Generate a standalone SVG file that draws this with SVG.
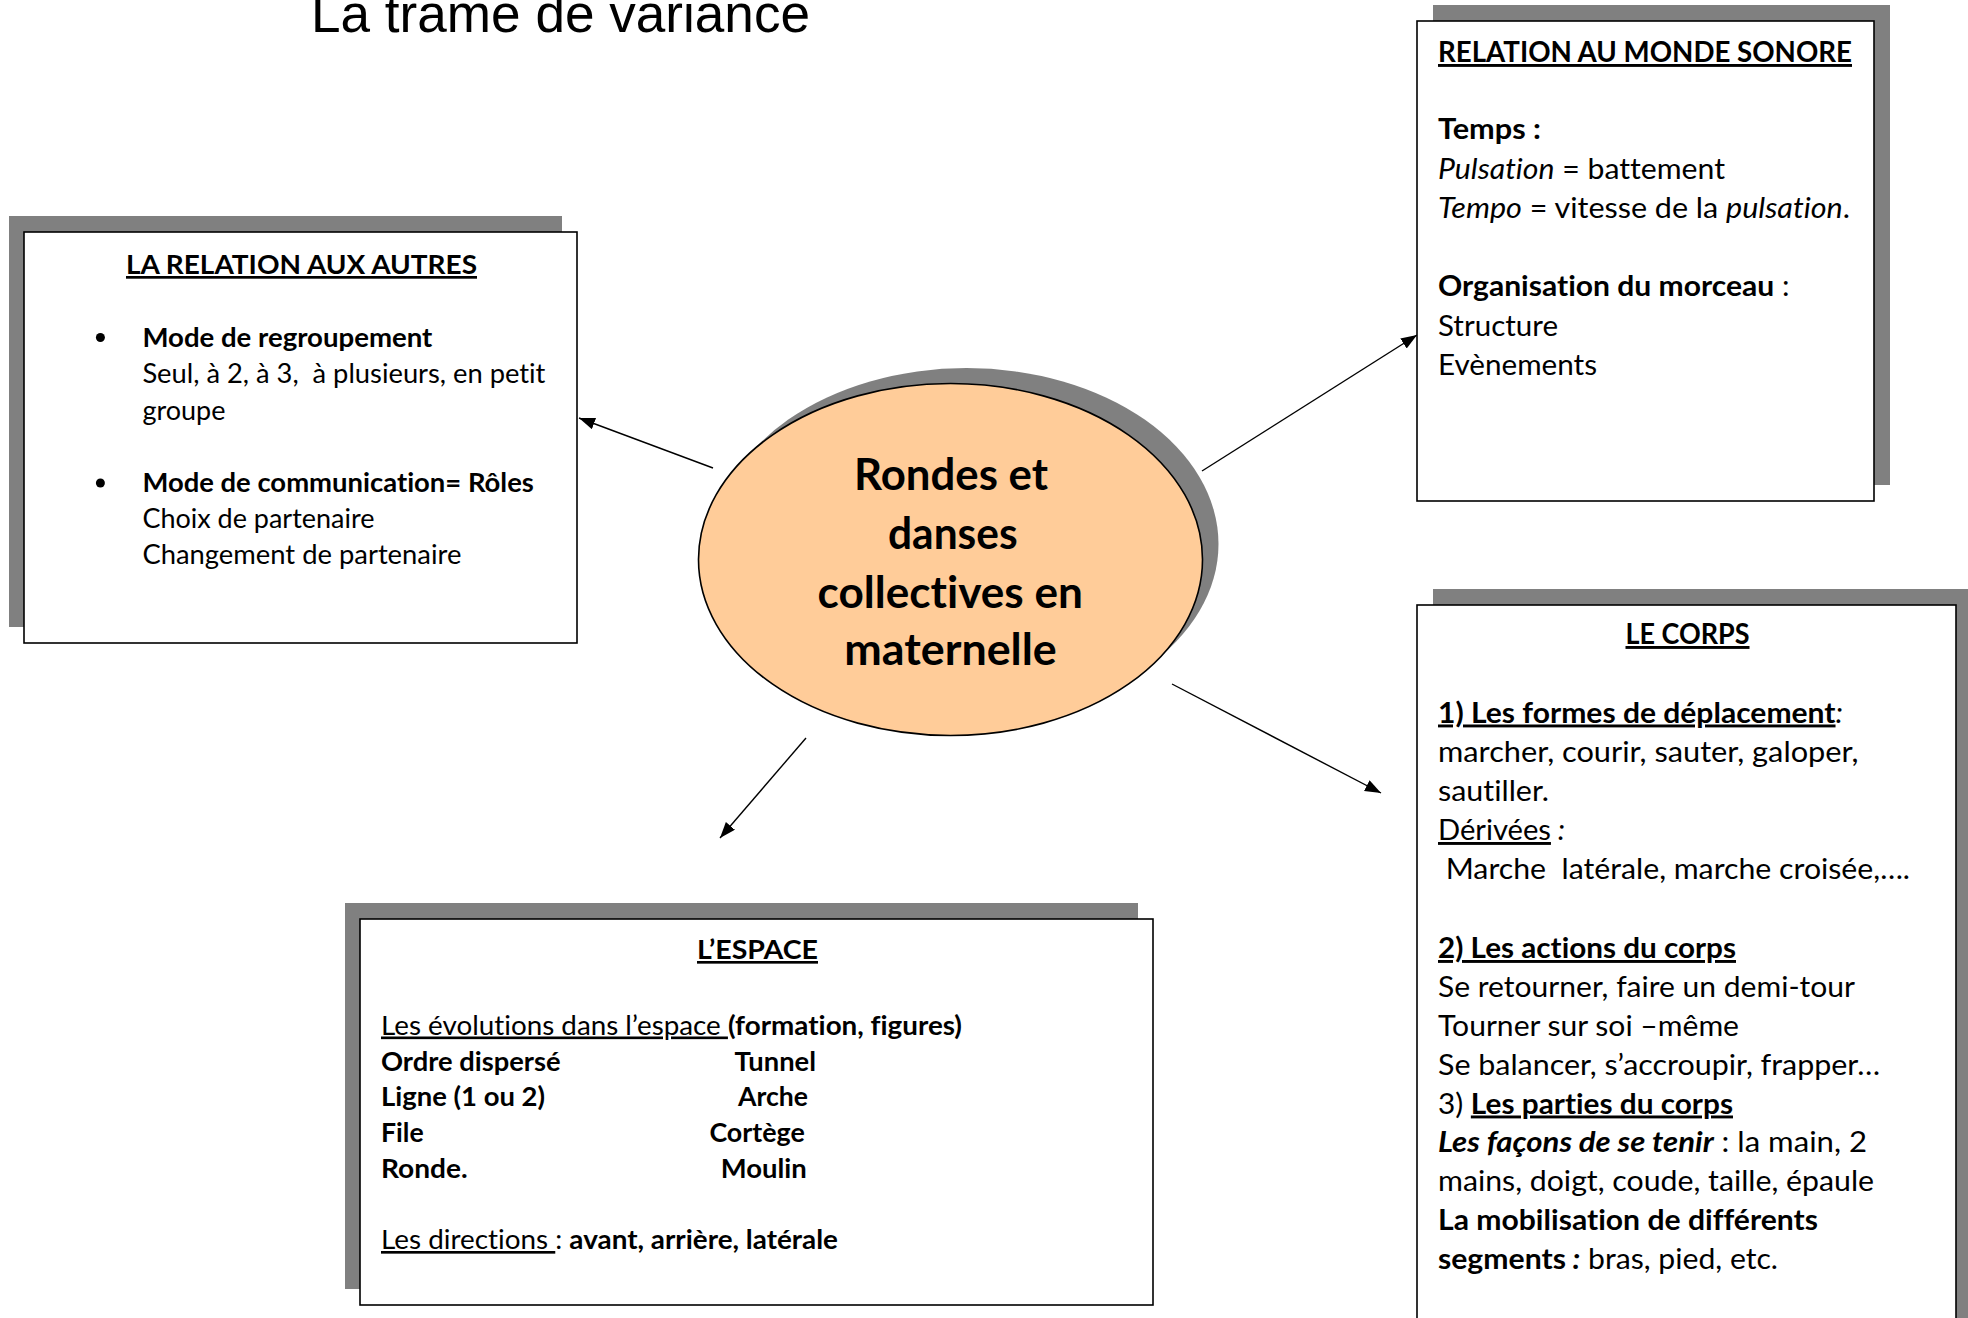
<svg xmlns="http://www.w3.org/2000/svg" width="1968" height="1318" viewBox="0 0 1968 1318">
<style>
.t{font-family:Lato,"Liberation Sans",sans-serif;fill:#000;font-variant-ligatures:none;font-feature-settings:"liga" 0,"dlig" 0}
.title{font-family:"Liberation Sans",Arial,sans-serif;font-size:53px;fill:#000}
.b{font-weight:bold}
.i{font-style:italic}
.u{text-decoration:underline}
.s1{font-size:27px}
.s2{font-size:29px}
.s4{font-size:26.5px}
.sc{font-size:44px;font-weight:bold}
.box{fill:#fff;stroke:#000;stroke-width:1.6}
.shadow{fill:#808080}
.conn{stroke:#000;stroke-width:1.4;fill:none;marker-end:url(#arrow)}
</style>
<defs>
<marker id="arrow" markerUnits="userSpaceOnUse" markerWidth="18" markerHeight="14" refX="16" refY="6" orient="auto">
<path d="M0,0 L16,6 L0,12 Z" fill="#000"/>
</marker>
</defs>
<rect width="1968" height="1318" fill="#fff"/>
<g id="title">
<text class="title" x="311" y="32" textLength="499" lengthAdjust="spacingAndGlyphs">La trame de variance</text>
</g>
<g id="connectors">
<line class="conn" x1="713" y1="468" x2="579" y2="418"/>
<line class="conn" x1="1202" y1="471" x2="1417" y2="335"/>
<line class="conn" x1="1172" y1="684" x2="1381" y2="793"/>
<line class="conn" x1="806" y1="738" x2="720" y2="838"/>
</g>
<g id="node-relation-autres">
<rect class="shadow" x="9" y="216" width="553" height="411"/>
<rect class="box" x="24" y="232" width="553" height="411"/>
<text class="t s1 b u" x="126" y="274" textLength="351" lengthAdjust="spacingAndGlyphs">LA RELATION AUX AUTRES</text>
<circle cx="100.4" cy="337.5" r="4.5" fill="#000"/>
<text class="t s1 b" x="142.4" y="346.5" textLength="290" lengthAdjust="spacingAndGlyphs">Mode de regroupement</text>
<text class="t s1" x="142.4" y="383" textLength="403" lengthAdjust="spacingAndGlyphs" xml:space="preserve">Seul, à 2, à 3,  à plusieurs, en petit</text>
<text class="t s1" x="142.4" y="419.5" textLength="83" lengthAdjust="spacingAndGlyphs">groupe</text>
<circle cx="100.4" cy="483" r="4.5" fill="#000"/>
<text class="t s1 b" x="142.4" y="492" textLength="391.5" lengthAdjust="spacingAndGlyphs">Mode de communication= Rôles</text>
<text class="t s1" x="142.4" y="528" textLength="232" lengthAdjust="spacingAndGlyphs">Choix de partenaire</text>
<text class="t s1" x="142.4" y="563.5" textLength="319" lengthAdjust="spacingAndGlyphs">Changement de partenaire</text>
</g>
<g id="node-monde-sonore">
<rect class="shadow" x="1433" y="5" width="457" height="480"/>
<rect class="box" x="1417" y="21" width="457" height="480"/>
<text class="t s2 b u" x="1438" y="62" textLength="414" lengthAdjust="spacingAndGlyphs">RELATION AU MONDE SONORE</text>
<text class="t s2 b" x="1438" y="139" textLength="103" lengthAdjust="spacingAndGlyphs">Temps :</text>
<text class="t s2" x="1438" y="178.5" textLength="287" lengthAdjust="spacingAndGlyphs"><tspan class="i">Pulsation</tspan> = battement</text>
<text class="t s2" x="1438" y="217.5" textLength="412" lengthAdjust="spacingAndGlyphs"><tspan class="i">Tempo</tspan> = vitesse de la <tspan class="i">pulsation</tspan>.</text>
<text class="t s2" x="1438" y="296" textLength="351.5" lengthAdjust="spacingAndGlyphs"><tspan class="b">Organisation du morceau</tspan> :</text>
<text class="t s2" x="1438" y="335.5" textLength="120" lengthAdjust="spacingAndGlyphs">Structure</text>
<text class="t s2" x="1438" y="374.5" textLength="159" lengthAdjust="spacingAndGlyphs">Evènements</text>
</g>
<g id="node-espace">
<rect class="shadow" x="345" y="903" width="793" height="386"/>
<rect class="box" x="360" y="919" width="793" height="386"/>
<text class="t s4 b u" x="697" y="959" textLength="121" lengthAdjust="spacingAndGlyphs">L’ESPACE</text>
<text class="t s4" x="381" y="1034.5" textLength="581" lengthAdjust="spacingAndGlyphs" xml:space="preserve"><tspan class="u">Les évolutions dans l’espace </tspan><tspan class="b">(formation, figures)</tspan></text>
<text class="t s4 b" x="381" y="1070.5" textLength="179.6" lengthAdjust="spacingAndGlyphs">Ordre dispersé</text>
<text class="t s4 b" x="734.5" y="1070.5" textLength="81.5" lengthAdjust="spacingAndGlyphs">Tunnel</text>
<text class="t s4 b" x="381" y="1106" textLength="164" lengthAdjust="spacingAndGlyphs">Ligne (1 ou 2)</text>
<text class="t s4 b" x="738" y="1106" textLength="70" lengthAdjust="spacingAndGlyphs">Arche</text>
<text class="t s4 b" x="381" y="1142" textLength="42.7" lengthAdjust="spacingAndGlyphs">File</text>
<text class="t s4 b" x="709.4" y="1142" textLength="95.4" lengthAdjust="spacingAndGlyphs">Cortège</text>
<text class="t s4 b" x="381" y="1177.5" textLength="86.7" lengthAdjust="spacingAndGlyphs">Ronde.</text>
<text class="t s4 b" x="720.7" y="1177.5" textLength="86" lengthAdjust="spacingAndGlyphs">Moulin</text>
<text class="t s4" x="381" y="1249" textLength="457" lengthAdjust="spacingAndGlyphs" xml:space="preserve"><tspan class="u">Les directions </tspan>: <tspan class="b">avant, arrière, latérale</tspan></text>
</g>
<g id="node-corps">
<rect class="shadow" x="1433" y="589" width="560" height="760"/>
<rect class="box" x="1417" y="605" width="539" height="760"/>
<text class="t s2 b u" x="1625.5" y="644" textLength="124" lengthAdjust="spacingAndGlyphs">LE CORPS</text>
<text class="t s2" x="1438" y="722.5" textLength="405" lengthAdjust="spacingAndGlyphs"><tspan class="b u">1) Les formes de déplacement</tspan><tspan class="i">:</tspan></text>
<text class="t s2" x="1438" y="762" textLength="420.5" lengthAdjust="spacingAndGlyphs">marcher, courir, sauter, galoper,</text>
<text class="t s2" x="1438" y="801" textLength="111" lengthAdjust="spacingAndGlyphs">sautiller.</text>
<text class="t s2" x="1438" y="840" textLength="127" lengthAdjust="spacingAndGlyphs" xml:space="preserve"><tspan class="u">Dérivées</tspan><tspan class="i"> :</tspan></text>
<text class="t s2" x="1438" y="879" textLength="472" lengthAdjust="spacingAndGlyphs" xml:space="preserve"> Marche  latérale, marche croisée,….</text>
<text class="t s2 b u" x="1438" y="958" textLength="298" lengthAdjust="spacingAndGlyphs">2) Les actions du corps</text>
<text class="t s2" x="1438" y="996.5" textLength="417" lengthAdjust="spacingAndGlyphs">Se retourner, faire un demi-tour</text>
<text class="t s2" x="1438" y="1035.5" textLength="301" lengthAdjust="spacingAndGlyphs">Tourner sur soi –même</text>
<text class="t s2" x="1438" y="1074.5" textLength="442" lengthAdjust="spacingAndGlyphs">Se balancer, s’accroupir, frapper…</text>
<text class="t s2" x="1438" y="1113.5" textLength="295" lengthAdjust="spacingAndGlyphs" xml:space="preserve">3) <tspan class="b u">Les parties du corps</tspan></text>
<text class="t s2" x="1438" y="1152" textLength="429" lengthAdjust="spacingAndGlyphs"><tspan class="b i">Les façons de se tenir</tspan> : la main, 2</text>
<text class="t s2" x="1438" y="1191" textLength="436" lengthAdjust="spacingAndGlyphs">mains, doigt, coude, taille, épaule</text>
<text class="t s2 b" x="1438" y="1230" textLength="380" lengthAdjust="spacingAndGlyphs">La mobilisation de différents</text>
<text class="t s2" x="1438" y="1269" textLength="340" lengthAdjust="spacingAndGlyphs" xml:space="preserve"><tspan class="b">segments</tspan><tspan class="b i"> :</tspan> bras, pied, etc.</text>
</g>
<g id="node-centre">
<ellipse class="shadow" cx="966.5" cy="544" rx="252" ry="176"/>
<ellipse cx="950.5" cy="559.5" rx="252" ry="176" fill="#FFCC99" stroke="#000" stroke-width="1.6"/>
<text class="t sc" x="854" y="489.5" textLength="194" lengthAdjust="spacingAndGlyphs">Rondes et</text>
<text class="t sc" x="888" y="548.5" textLength="129.6" lengthAdjust="spacingAndGlyphs">danses</text>
<text class="t sc" x="817.5" y="607.5" textLength="265.4" lengthAdjust="spacingAndGlyphs">collectives en</text>
<text class="t sc" x="844.3" y="665" textLength="212.5" lengthAdjust="spacingAndGlyphs">maternelle</text>
</g>
</svg>
